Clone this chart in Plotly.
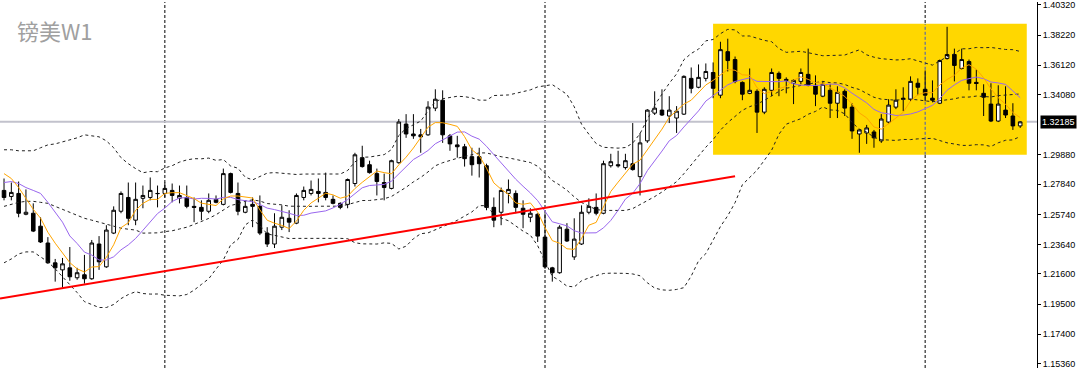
import plotly.graph_objects as go
import pandas as pd

# ---------------- data (GBP/USD weekly) ----------------
opens = [1.2741,1.2699,1.2720,1.2575,1.2582,1.2492,1.2375,1.2237,1.2188,1.2202,
         1.2133,1.2154,1.2126,1.2368,1.2209,1.2444,1.2596,1.2692,1.2534,1.2686,
         1.2692,1.2720,1.2720,1.2741,1.2686,1.2692,1.2630,1.2623,1.2596,1.2679,
         1.2644,1.2858,1.2720,1.2589,1.2644,1.2630,1.2444,1.2368,1.2485,1.2547,
         1.2513,1.2692,1.2720,1.2734,1.2727,1.2679,1.2651,1.2644,1.2789,1.2969,
         1.2920,1.2858,1.2796,1.2755,1.2934,1.3203,1.3134,1.3128,1.3128,1.3314,
         1.3369,1.3121,1.3058,1.3045,1.2976,1.2976,1.2913,1.2623,1.2589,1.2720,
         1.2720,1.2617,1.2554,1.2575,1.2416,1.2202,1.2168,1.2471,1.2278,1.2368,
         1.2589,1.2623,1.2582,1.2913,1.2920,1.2900,1.2927,1.2837,1.3086,1.3279,
         1.3300,1.3259,1.3245,1.3272,1.3521,1.3459,1.3521,1.3562,1.3404,1.3707,
         1.3652,1.3493,1.3417,1.3431,1.3286,1.3438,1.3556,1.3514,1.3487,1.3500,
         1.3549,1.3473,1.3397,1.3438,1.3348,1.3431,1.3321,1.3134,1.3141,1.3148,
         1.3086,1.3217,1.3321,1.3383,1.3376,1.3487,1.3445,1.3383,1.3348,1.3659,
         1.3687,1.3590,1.3638,1.3493,1.3417,1.3342,1.3224,1.3300,1.3259,1.3190]
highs = [1.2824,1.2796,1.2803,1.2748,1.2651,1.2554,1.2416,1.2264,1.2271,1.2347,
         1.2202,1.2292,1.2396,1.2423,1.2499,1.2630,1.2734,1.2796,1.2796,1.2775,
         1.2831,1.2775,1.2796,1.2789,1.2775,1.2775,1.2692,1.2672,1.2720,1.2706,
         1.2893,1.2865,1.2796,1.2672,1.2692,1.2706,1.2485,1.2582,1.2637,1.2603,
         1.2720,1.2768,1.2810,1.2824,1.2865,1.2706,1.2658,1.2824,1.3003,1.3052,
         1.2948,1.2893,1.2858,1.2955,1.3238,1.3272,1.3272,1.3169,1.3362,1.3445,
         1.3438,1.3134,1.3121,1.3065,1.3038,1.3038,1.2927,1.2692,1.2761,1.2817,
         1.2741,1.2672,1.2617,1.2582,1.2582,1.2209,1.2499,1.2513,1.2547,1.2637,
         1.2686,1.2720,1.2948,1.2996,1.3017,1.2996,1.3210,1.3141,1.3307,1.3431,
         1.3445,1.3397,1.3328,1.3542,1.3597,1.3618,1.3625,1.3632,1.3776,1.3797,
         1.3673,1.3500,1.3590,1.3445,1.3459,1.3590,1.3569,1.3528,1.3514,1.3590,
         1.3728,1.3542,1.3500,1.3480,1.3466,1.3445,1.3348,1.3169,1.3197,1.3162,
         1.3272,1.3376,1.3445,1.3459,1.3535,1.3521,1.3576,1.3507,1.3652,1.3880,
         1.3728,1.3728,1.3652,1.3583,1.3480,1.3487,1.3473,1.3466,1.3348,1.3224]
lows = [1.2672,1.2672,1.2554,1.2568,1.2451,1.2375,1.2230,1.2106,1.2064,1.2112,
        1.2119,1.2092,1.2119,1.2188,1.2202,1.2437,1.2582,1.2499,1.2499,1.2617,
        1.2672,1.2623,1.2692,1.2658,1.2651,1.2617,1.2520,1.2534,1.2582,1.2651,
        1.2637,1.2720,1.2568,1.2582,1.2485,1.2430,1.2347,1.2340,1.2465,1.2451,
        1.2506,1.2672,1.2706,1.2658,1.2672,1.2644,1.2610,1.2617,1.2768,1.2900,
        1.2858,1.2706,1.2672,1.2748,1.2927,1.3107,1.3100,1.3003,1.3121,1.3293,
        1.3072,1.3017,1.2969,1.2907,1.2844,1.2831,1.2603,1.2485,1.2499,1.2651,
        1.2582,1.2478,1.2520,1.2382,1.2195,1.2106,1.2161,1.2382,1.2257,1.2361,
        1.2575,1.2568,1.2575,1.2900,1.2900,1.2886,1.2879,1.2706,1.3072,1.3266,
        1.3259,1.3210,1.3141,1.3266,1.3417,1.3452,1.3500,1.3383,1.3383,1.3569,
        1.3487,1.3369,1.3411,1.3141,1.3272,1.3397,1.3397,1.3417,1.3342,1.3480,
        1.3466,1.3328,1.3390,1.3245,1.3245,1.3259,1.3100,1.3003,1.3065,1.3038,
        1.3072,1.3203,1.3307,1.3293,1.3362,1.3404,1.3362,1.3355,1.3342,1.3652,
        1.3500,1.3583,1.3438,1.3438,1.3259,1.3217,1.3217,1.3245,1.3162,1.3176]
closes = [1.2692,1.2727,1.2582,1.2589,1.2458,1.2382,1.2237,1.2202,1.2230,1.2140,
          1.2168,1.2126,1.2375,1.2244,1.2465,1.2603,1.2720,1.2547,1.2679,1.2706,
          1.2741,1.2719,1.2755,1.2706,1.2706,1.2630,1.2623,1.2596,1.2672,1.2658,
          1.2858,1.2727,1.2596,1.2630,1.2630,1.2444,1.2368,1.2492,1.2554,1.2520,
          1.2706,1.2741,1.2748,1.2720,1.2692,1.2651,1.2623,1.2817,1.2989,1.2907,
          1.2865,1.2803,1.2761,1.2948,1.3217,1.3134,1.3121,1.3114,1.3321,1.3376,
          1.3128,1.3065,1.3045,1.2962,1.2920,1.2927,1.2623,1.2534,1.2741,1.2748,
          1.2623,1.2575,1.2582,1.2423,1.2209,1.2168,1.2485,1.2389,1.2402,1.2589,
          1.2630,1.2582,1.2927,1.2941,1.2913,1.2948,1.2886,1.3072,1.3300,1.3314,
          1.3266,1.3300,1.3293,1.3535,1.3452,1.3528,1.3569,1.3452,1.3721,1.3645,
          1.3500,1.3411,1.3438,1.3286,1.3445,1.3562,1.3521,1.3507,1.3507,1.3562,
          1.3473,1.3411,1.3480,1.3348,1.3424,1.3314,1.3155,1.3162,1.3176,1.3107,
          1.3238,1.3335,1.3369,1.3376,1.3500,1.3459,1.3404,1.3369,1.3645,1.3687,
          1.3611,1.3652,1.3487,1.3486,1.3390,1.3224,1.3342,1.3266,1.3190,1.32185]

# indicator values visible before each averaging window is complete
ma5_lead = [1.2858, 1.2824, 1.2761, 1.2686]
ma10_lead = [1.2796, 1.2803, 1.2789, 1.2761, 1.2741, 1.2720, 1.2658, 1.2589, 1.2520]
bb_upper_lead = [1.3024, 1.3024, 1.3017, 1.3017, 1.3017, 1.3038, 1.3058, 1.3065, 1.3079, 1.3093,
                 1.3107, 1.3128, 1.3121, 1.3114, 1.3086, 1.3038, 1.2969, 1.2927, 1.2893]
bb_mid_lead = [1.2630, 1.2644, 1.2658, 1.2665, 1.2665, 1.2658, 1.2651, 1.2630, 1.2610, 1.2589,
               1.2568, 1.2547, 1.2534, 1.2520, 1.2506, 1.2492, 1.2478, 1.2471, 1.2465]
bb_lower_lead = [1.2237, 1.2264, 1.2299, 1.2313, 1.2313, 1.2278, 1.2244, 1.2195, 1.2140, 1.2085,
                 1.2030, 1.1967, 1.1947, 1.1926, 1.1926, 1.1947, 1.1988, 1.2016, 1.2036]

tick_vals = [1.40320, 1.38220, 1.36120, 1.34080, 1.29880, 1.27840, 1.25740,
             1.23640, 1.21600, 1.19500, 1.17400, 1.15360]
tick_text = ["%.5f" % v for v in tick_vals]
current_price = 1.32185
title_text = "镑美W1"

trend_x = [-0.55, 100.0]
trend_y = [1.1988, 1.2840]
box_x = [96.99, 139.9]
box_y = [1.2989, 1.3901]
grid_x = [22, 74, 126]

x_range = [-0.55, 141.3]
y_range = [1.15048, 1.40527]

# ---------------- indicators ----------------
x = list(range(len(closes)))
c = pd.Series(closes)
ma5 = c.rolling(5).mean().tolist()
ma10 = c.rolling(10).mean().tolist()
mid = c.rolling(20).mean()
sd = c.rolling(20).std(ddof=0)
up = (mid + 2 * sd).tolist()
lo = (mid - 2 * sd).tolist()
mid = mid.tolist()
ma5[:len(ma5_lead)] = ma5_lead
ma10[:len(ma10_lead)] = ma10_lead
up[:len(bb_upper_lead)] = bb_upper_lead
mid[:len(bb_mid_lead)] = bb_mid_lead
lo[:len(bb_lower_lead)] = bb_lower_lead

fig = go.Figure()
fig.add_trace(go.Candlestick(
    x=x, open=opens, high=highs, low=lows, close=closes,
    increasing=dict(line=dict(color="black", width=1), fillcolor="white"),
    decreasing=dict(line=dict(color="black", width=1), fillcolor="black"),
    whiskerwidth=0, showlegend=False, hoverinfo="skip"))

for series in (up, mid, lo):
    fig.add_trace(go.Scatter(x=x, y=series, mode="lines",
                             line=dict(color="#222222", width=1, dash="3px,3px"),
                             showlegend=False, hoverinfo="skip"))
fig.add_trace(go.Scatter(x=x, y=ma10, mode="lines",
                         line=dict(color="#9966EE", width=1),
                         showlegend=False, hoverinfo="skip"))
fig.add_trace(go.Scatter(x=x, y=ma5, mode="lines",
                         line=dict(color="#FFA500", width=1),
                         showlegend=False, hoverinfo="skip"))

shapes = [
    dict(type="rect", xref="x", yref="y", x0=box_x[0], x1=box_x[1], y0=box_y[0], y1=box_y[1],
         fillcolor="#FFD700", line=dict(width=0), layer="below"),
]
for gx in grid_x:
    shapes.append(dict(type="line", xref="x", yref="paper", x0=gx, x1=gx, y0=0, y1=1,
                       line=dict(color="black", width=1, dash="3px,2px"), layer="below"))
    if box_x[0] <= gx <= box_x[1]:
        shapes.append(dict(type="line", xref="x", yref="y", x0=gx, x1=gx, y0=box_y[0], y1=box_y[1],
                           line=dict(color="#3A55C8", width=1, dash="3px,2px"), layer="below"))
shapes.append(dict(type="line", xref="paper", yref="y", x0=0, x1=1, y0=current_price, y1=current_price,
                   line=dict(color="#C2C2CC", width=2), layer="below"))
shapes.append(dict(type="line", xref="x", yref="y", x0=trend_x[0], x1=trend_x[1],
                   y0=trend_y[0], y1=trend_y[1], line=dict(color="#FF0000", width=2), layer="above"))

fig.update_layout(
    width=1080, height=369,
    margin=dict(l=0, r=43, t=0, b=0),
    paper_bgcolor="white", plot_bgcolor="white",
    shapes=shapes,
    showlegend=False,
    xaxis=dict(range=x_range, showgrid=False, zeroline=False, showticklabels=False,
               ticks="", rangeslider=dict(visible=False), showline=False),
    yaxis=dict(range=y_range, side="right", showgrid=False, zeroline=False,
               tickvals=tick_vals, ticktext=tick_text, ticks="outside", ticklen=3,
               tickcolor="black", showline=True, linecolor="black", linewidth=1,
               ticklabeloverflow="allow",
               tickfont=dict(family="Liberation Sans, Arial", size=9, color="black")),
    annotations=[
        dict(text=title_text, xref="paper", yref="paper", x=0, y=1, xanchor="left", yanchor="top",
             xshift=15, yshift=-10, showarrow=False,
             font=dict(family="Noto Sans CJK SC", size=22, color="#A0A0A0")),
        dict(text="%.5f" % current_price, xref="paper", yref="y", x=1, y=current_price,
             xanchor="left", yanchor="middle", xshift=3, showarrow=False,
             bgcolor="black", borderpad=1,
             font=dict(family="Liberation Sans, Arial", size=9, color="white")),
    ],
)

fig.write_html("out.html")
